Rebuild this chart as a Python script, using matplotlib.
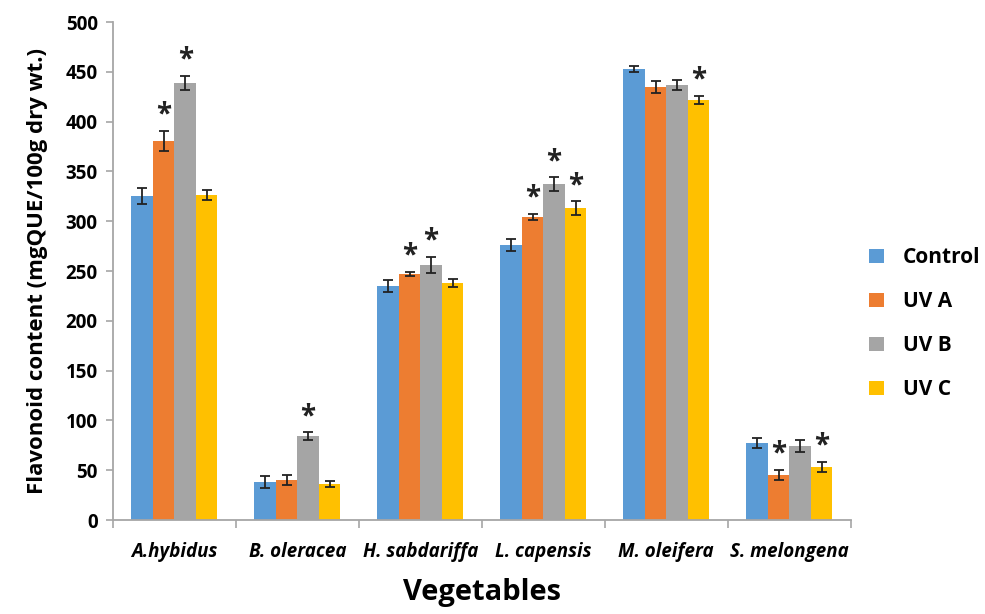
import matplotlib
matplotlib.use("Agg")
import matplotlib.pyplot as plt
import numpy as np

categories = ["A.hybidus", "B. oleracea", "H. sabdariffa", "L. capensis", "M. oleifera", "S. melongena"]
series = ["Control", "UV A", "UV B", "UV C"]
control = [325, 38, 235, 276, 453, 77]
uv_a = [381, 40, 247, 304, 435, 45]
uv_b = [439, 84, 256, 337, 437, 74]
uv_c = [326, 36, 238, 313, 422, 53]
err_control = [8, 6, 6, 6, 3, 5]
err_uv_a = [10, 5, 2, 3, 6, 5]
err_uv_b = [7, 4, 8, 7, 5, 6]
err_uv_c = [5, 3, 4, 7, 4, 5]
sig_control = [0, 0, 0, 0, 0, 0]
sig_uv_a = [1, 0, 1, 1, 0, 1]
sig_uv_b = [1, 1, 1, 1, 0, 0]
sig_uv_c = [0, 0, 0, 1, 1, 1]
yticks = [0, 50, 100, 150, 200, 250, 300, 350, 400, 450, 500]

colors = ["#5B9BD5", "#ED7D31", "#A5A5A5", "#FFC000"]
values = [control, uv_a, uv_b, uv_c]
errors = [err_control, err_uv_a, err_uv_b, err_uv_c]
sigs = [sig_control, sig_uv_a, sig_uv_b, sig_uv_c]

plt.rcParams['font.family'] = ['Open Sans', 'DejaVu Sans']

fig = plt.figure(figsize=(9.85, 6.14), dpi=100)
ax = fig.add_axes([0.1147, 0.153, 0.749, 0.811])

x = np.arange(len(categories))
w = 0.175
for i, (s, v, e, sg, c) in enumerate(zip(series, values, errors, sigs, colors)):
    pos = x + (i - 1.5) * w
    ax.bar(pos, v, width=w, color=c, label=s, zorder=2)
    ax.errorbar(pos, v, yerr=e, fmt='none', ecolor='#222222', elinewidth=1.3,
                capsize=3.5, capthick=1.3, zorder=3)
    for p, val, er, flag in zip(pos, v, e, sg):
        if flag:
            ax.annotate("*", (p, val + er), xytext=(0, 1), textcoords='offset points',
                        ha='center', va='bottom', fontsize=20, fontweight='bold', color='#222222')

ax.set_xlim(-0.5, len(categories) - 0.5)
ax.set_ylim(0, 500)
ax.set_yticks(yticks)
ax.set_yticklabels([str(t) for t in yticks], fontsize=13.5, fontweight='bold')
ax.set_xticks(x)
ax.set_xticklabels(categories, fontsize=13.5, fontweight='bold', style='italic')
ax.tick_params(axis='x', which='major', length=0, pad=16)
ax.set_xticks(np.arange(-0.5, len(categories), 1.0), minor=True)
ax.tick_params(axis='x', which='minor', length=6, color='#A6A6A6', width=1.2, direction='out')
ax.tick_params(axis='y', length=5, color='#A6A6A6', width=1.2, direction='out', pad=6)

for side in ['top', 'right']:
    ax.spines[side].set_visible(False)
for side in ['left', 'bottom']:
    ax.spines[side].set_color('#A6A6A6')
    ax.spines[side].set_linewidth(1.3)

ax.set_ylabel("Flavonoid content (mgQUE/100g dry wt.)", fontsize=16, fontweight='bold', labelpad=13)
ax.set_xlabel("Vegetables", fontsize=21, fontweight='bold', labelpad=11)

leg = ax.legend(loc='center left', bbox_to_anchor=(1.0, 0.394), frameon=False,
                prop={'weight': 'bold', 'size': 15}, handlelength=0.7, handleheight=0.7,
                labelspacing=1.1, handletextpad=0.9, borderaxespad=0.5)

fig.savefig("out.png", dpi=100)
